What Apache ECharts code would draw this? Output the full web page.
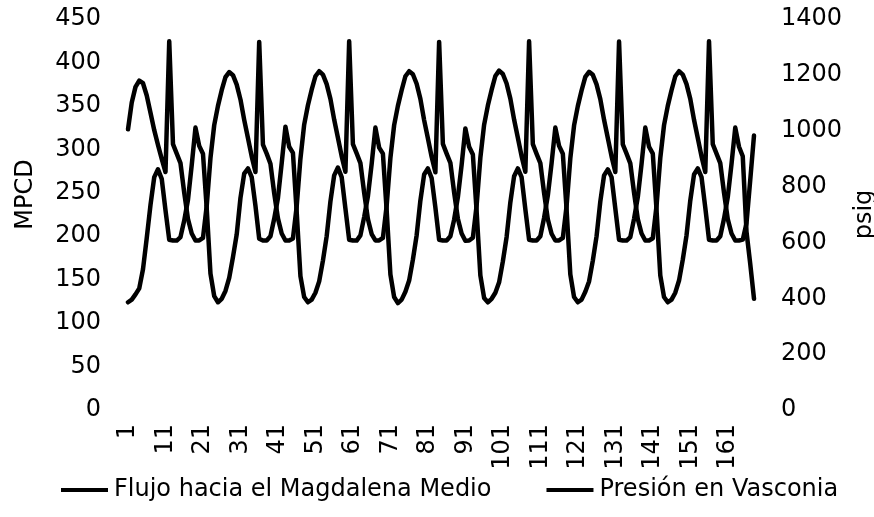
<!DOCTYPE html>
<html>
<head>
<meta charset="utf-8">
<script src="https://cdn.jsdelivr.net/npm/echarts@6/dist/echarts.min.js"></script>
<style>
html,body{margin:0;padding:0;background:#fff;}
#chart{width:874px;height:517px;}
</style>
</head>
<body>
<div id="chart"></div>
<script>
// Hour index labels 1..168 (one week, hourly)
const categories = [];
for (let i = 1; i <= 168; i++) categories.push(String(i));

// Flujo hacia el Magdalena Medio (MPCD), per day (24 hourly values)
const flujoDia1 = [124,127,133,140,162,198,236,268,277,266,230,196,195,195,199,218,242,282,325,304,295,232,157,131];
const flujoDia2 = [124,128,137,152,176,202,244,272,278,268,235,197,195,195,200,220,244,284,326,303,296,228,154,130];
const flujoDia3 = [124,127,135,148,172,200,240,270,279,268,232,196,195,195,201,222,246,283,325,302,295,230,156,130];
const flujoDia4 = [123,127,136,149,173,201,241,271,278,267,233,196,195,195,200,219,245,282,324,303,294,229,155,129];
const flujoDia5 = [124,128,135,147,171,199,239,269,278,268,231,196,195,195,200,221,247,284,325,304,295,231,156,130];
const flujoDia6 = [124,127,136,148,172,200,240,270,277,268,232,196,195,195,199,220,245,283,325,303,295,230,155,130];
const flujoDia7 = [124,127,135,149,173,201,241,271,278,268,233,196,195,195,200,220,245,283,325,303,292,205,168,128];

// Presión en Vasconia (psig), per day
const presionDia1 = [1005,1101,1157,1179,1170,1126,1064,1002,949,899,852,1320,952,918,884,778,684,632,607,607,616,731,902,1020];
const presionDia2 = [1089,1145,1192,1210,1199,1165,1112,1039,974,908,852,1318,950,918,882,776,686,632,607,607,614,729,900,1022];
const presionDia3 = [1091,1147,1195,1213,1201,1167,1114,1040,975,909,853,1320,952,919,884,778,684,630,607,607,616,731,902,1020];
const presionDia4 = [1089,1145,1195,1213,1202,1168,1114,1038,973,907,851,1318,953,918,885,779,685,632,606,607,617,732,903,1021];
const presionDia5 = [1090,1146,1196,1215,1203,1169,1115,1040,975,909,853,1320,952,917,884,777,683,631,607,607,616,730,901,1019];
const presionDia6 = [1088,1144,1193,1211,1200,1166,1113,1039,974,908,852,1319,951,918,883,778,684,632,607,607,615,731,902,1020];
const presionDia7 = [1089,1145,1195,1213,1201,1167,1114,1039,974,908,852,1320,952,918,884,778,684,632,607,607,610,669,824,983];

const flujo = [].concat(flujoDia1, flujoDia2, flujoDia3, flujoDia4, flujoDia5, flujoDia6, flujoDia7);
const presion = [].concat(presionDia1, presionDia2, presionDia3, presionDia4, presionDia5, presionDia6, presionDia7);

const seriesNames = ['Flujo hacia el Magdalena Medio', 'Presión en Vasconia'];
const axisNames = ['MPCD', 'psig'];

const FONT = 'DejaVu Sans';
const chart = echarts.init(document.getElementById('chart'), null, {renderer: 'canvas'});
const lineStyle = {color: '#000', width: 4.5, cap: 'round', join: 'round'};

chart.setOption({
  animation: false,
  backgroundColor: '#fff',
  grid: {left: 128, right: 120, top: 19, bottom: 107, containLabel: false, outerBoundsMode: 'none'},
  legend: {
    data: seriesNames,
    left: 56, top: 473,
    icon: 'rect', itemWidth: 47, itemHeight: 4, itemGap: 55,
    textStyle: {fontFamily: FONT, fontSize: 24, color: '#000', padding: [0,0,0,1]}
  },
  xAxis: {
    type: 'category', data: categories, boundaryGap: false,
    axisLine: {show: false}, axisTick: {show: false}, splitLine: {show: false},
    axisLabel: {interval: 9, rotate: 90, margin: 14, fontFamily: FONT, fontSize: 24, color: '#000'}
  },
  yAxis: [
    {
      type: 'value', min: 0, max: 450, interval: 50, position: 'left',
      name: axisNames[0], nameLocation: 'middle', nameRotate: 90, nameGap: 90,
      nameTextStyle: {fontFamily: FONT, fontSize: 24, color: '#000', padding: [0,0,0,40]},
      axisLine: {show: false}, axisTick: {show: false}, splitLine: {show: false},
      axisLabel: {margin: 27, fontFamily: FONT, fontSize: 24, color: '#000', formatter: v => String(v)}
    },
    {
      type: 'value', min: 0, max: 1400, interval: 200, position: 'right',
      name: axisNames[1], nameLocation: 'middle', nameRotate: 90, nameGap: 93,
      nameTextStyle: {fontFamily: FONT, fontSize: 24, color: '#000'},
      axisLine: {show: false}, axisTick: {show: false}, splitLine: {show: false},
      axisLabel: {margin: 27, fontFamily: FONT, fontSize: 24, color: '#000', formatter: v => String(v)}
    }
  ],
  series: [
    {name: seriesNames[0], type: 'line', yAxisIndex: 0, data: flujo, symbol: 'none', lineStyle: lineStyle, itemStyle: {color: '#000'}},
    {name: seriesNames[1], type: 'line', yAxisIndex: 1, data: presion, symbol: 'none', lineStyle: lineStyle, itemStyle: {color: '#000'}}
  ]
});
</script>
</body>
</html>
